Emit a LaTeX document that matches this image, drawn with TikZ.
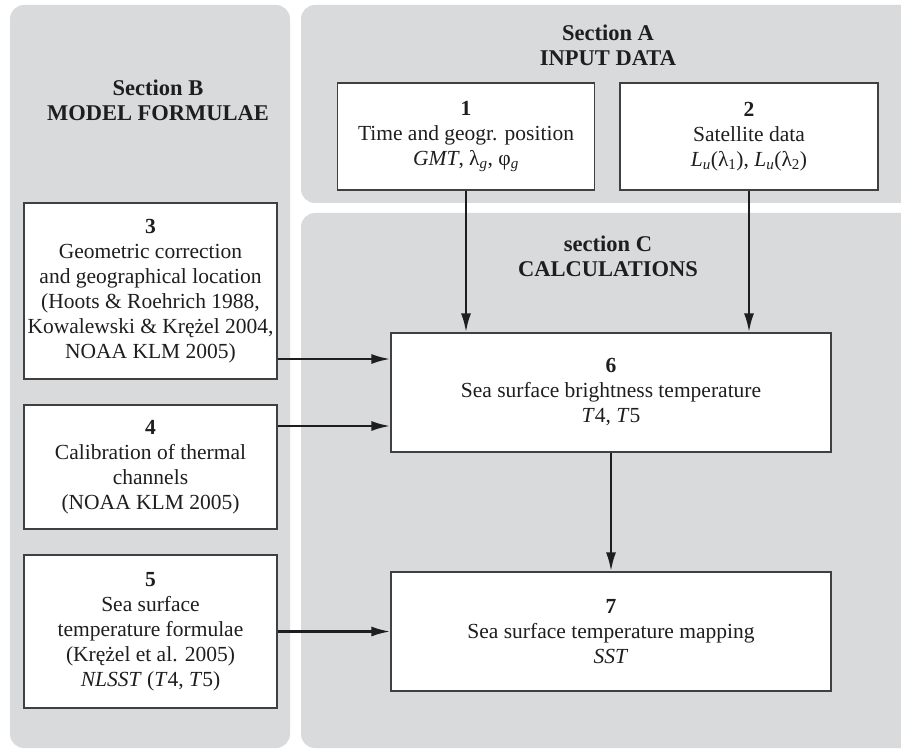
\documentclass[tikz,border=0pt]{standalone}
\usepackage{fontspec}
\setmainfont{Liberation Serif}
\usetikzlibrary{arrows.meta}
\definecolor{panel}{RGB}{217,218,220}
\definecolor{ink}{RGB}{30,30,32}
\begin{document}
\begin{tikzpicture}[x=1pt,y=-1pt,
  every node/.style={font=\fontsize{21.5}{25}\selectfont, text=ink},
  panelbox/.style={fill=panel, rounded corners=14pt},
  blk/.style={draw=ink!85, line width=1.2pt, fill=white, align=center, inner sep=0pt},
  title/.style={align=center, font=\fontsize{22.5}{25}\selectfont\bfseries},
  arr/.style={draw=ink, line width=2.5pt, -{Latex[length=19pt,width=10pt]}}]
\useasboundingbox (0,0) rectangle (901,751);
\clip (0,0) rectangle (901,751);

% background sections
\fill[panelbox] (10,5) rectangle (290,748);
\fill[panelbox] (301,5) rectangle (930,203);
\fill[panelbox] (301,213) rectangle (930,748);

% section titles
\node[title] (tB) at (158,100.5) {Section B\\MODEL FORMULAE};
\node[title] (tA) at (608,45.5) {Section A\\INPUT DATA};
\node[title] (tC) at (608,256.5) {section C\\CALCULATIONS};

% blocks
\node[blk, minimum width=257pt, minimum height=107pt] (b1) at (466,136.5)
  {\textbf{1}\\Time and geogr. position\\\textit{GMT}, λ\textsubscript{\textit{g}}, φ\textsubscript{\textit{g}}};
\node[blk, minimum width=258pt, minimum height=107pt] (b2) at (749,136.5)
  {\textbf{2}\\Satellite data\\\textit{L}\textsubscript{\textit{u}}(λ\textsubscript{1}), \textit{L}\textsubscript{\textit{u}}(λ\textsubscript{2})};
\node[blk, minimum width=253pt, minimum height=176pt] (b3) at (150.5,291)
  {\textbf{3}\\Geometric correction\\and geographical location\\(Hoots \& Roehrich 1988,\\Kowalewski \& Krężel 2004,\\NOAA KLM 2005)};
\node[blk, minimum width=253pt, minimum height=124pt] (b4) at (150.5,467)
  {\textbf{4}\\Calibration of thermal\\channels\\(NOAA KLM 2005)};
\node[blk, minimum width=253pt, minimum height=153pt] (b5) at (150.5,631.5)
  {\textbf{5}\\Sea surface\\temperature formulae\\(Krężel et al. 2005)\\\textit{NLSST} (\textit{T}4, \textit{T}5)};
\node[blk, minimum width=440pt, minimum height=119pt] (b6) at (611,392.5)
  {\textbf{6}\\Sea surface brightness temperature\\\textit{T}4, \textit{T}5};
\node[blk, minimum width=440pt, minimum height=119pt] (b7) at (611,631.5)
  {\textbf{7}\\Sea surface temperature mapping\\\textit{SST}};

% connectors
\coordinate (a3) at ([yshift=-68pt]b3.east);
\coordinate (a4) at ([yshift=41pt]b4.east);
\draw[arr] (b1.south) -- (b1.south |- b6.north);
\draw[arr] (b2.south) -- (b2.south |- b6.north);
\draw[arr] (a3) -- (a3 -| b6.west);
\draw[arr] (a4) -- (a4 -| b6.west);
\draw[arr] (b5.east) -- (b5.east -| b7.west);
\draw[arr] (b6.south) -- (b7.north);
\end{tikzpicture}
\end{document}
